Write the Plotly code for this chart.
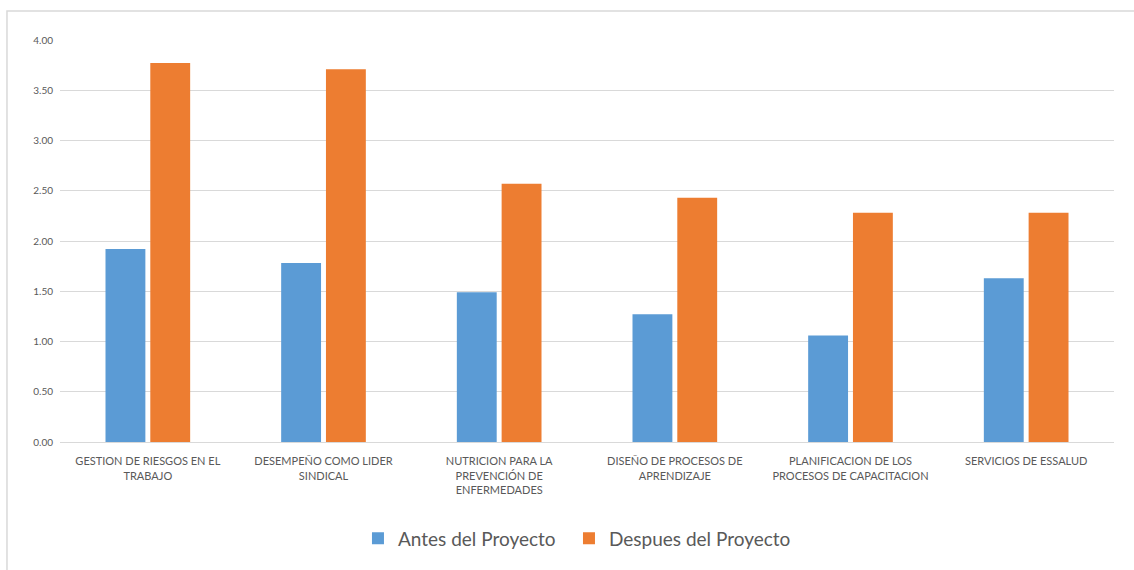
import plotly.graph_objects as go

# Category labels (line breaks as displayed under the axis)
categorias = [
    "GESTION DE RIESGOS EN EL<br>TRABAJO",
    "DESEMPEÑO COMO LIDER<br>SINDICAL",
    "NUTRICION PARA LA<br>PREVENCIÓN DE<br>ENFERMEDADES",
    "DISEÑO DE PROCESOS DE<br>APRENDIZAJE",
    "PLANIFICACION DE LOS<br>PROCESOS DE CAPACITACION",
    "SERVICIOS DE ESSALUD",
]

antes = [1.92, 1.78, 1.49, 1.27, 1.06, 1.63]
despues = [3.77, 3.71, 2.57, 2.43, 2.28, 2.28]

tick_vals = [0, 0.5, 1, 1.5, 2, 2.5, 3, 3.5, 4]
tick_text = ["0.00", "0.50", "1.00", "1.50", "2.00", "2.50", "3.00", "3.50", "4.00"]

FONT = "Lato, 'Open Sans', sans-serif"

fig = go.Figure()
fig.add_trace(go.Bar(name="Antes del Proyecto", x=categorias, y=antes,
                     marker=dict(color="#5b9bd5", line=dict(width=0)),
                     legend="legend"))
fig.add_trace(go.Bar(name="Despues del Proyecto", x=categorias, y=despues,
                     marker=dict(color="#ed7d31", line=dict(width=0)),
                     legend="legend2"))

legend_style = dict(orientation="h", xanchor="left", y=-0.24, yanchor="middle",
                    font=dict(size=19, color="#595959"), itemwidth=30,
                    bgcolor="rgba(0,0,0,0)")

fig.update_layout(
    width=1134, height=570,
    margin=dict(l=60, r=20, t=40, b=128),
    paper_bgcolor="white", plot_bgcolor="white",
    barmode="group", bargap=0.49, bargroupgap=0.11,
    font=dict(family=FONT, color="#595959"),
    showlegend=True,
    legend=dict(x=0.2827, **legend_style),
    legend2=dict(x=0.4829, **legend_style),
    xaxis=dict(showgrid=False, showline=True, linecolor="#d9d9d9", linewidth=1,
               tickfont=dict(size=11, color="#595959"), ticks="",
               ticklabelstandoff=9),
    yaxis=dict(range=[0, 4], tickvals=tick_vals, ticktext=tick_text,
               showgrid=True, gridcolor="#d9d9d9", gridwidth=1,
               zeroline=False, showline=False, ticks="",
               ticklabelstandoff=6,
               tickfont=dict(size=10, color="#595959")),
    shapes=[dict(type="rect", xref="paper", yref="paper",
                 x0=-0.0503, x1=1.03, y0=-0.34, y1=1.072,
                 line=dict(color="#d9d9d9", width=1.5), fillcolor="rgba(0,0,0,0)",
                 layer="below")],
)

fig.write_html("out.html")
